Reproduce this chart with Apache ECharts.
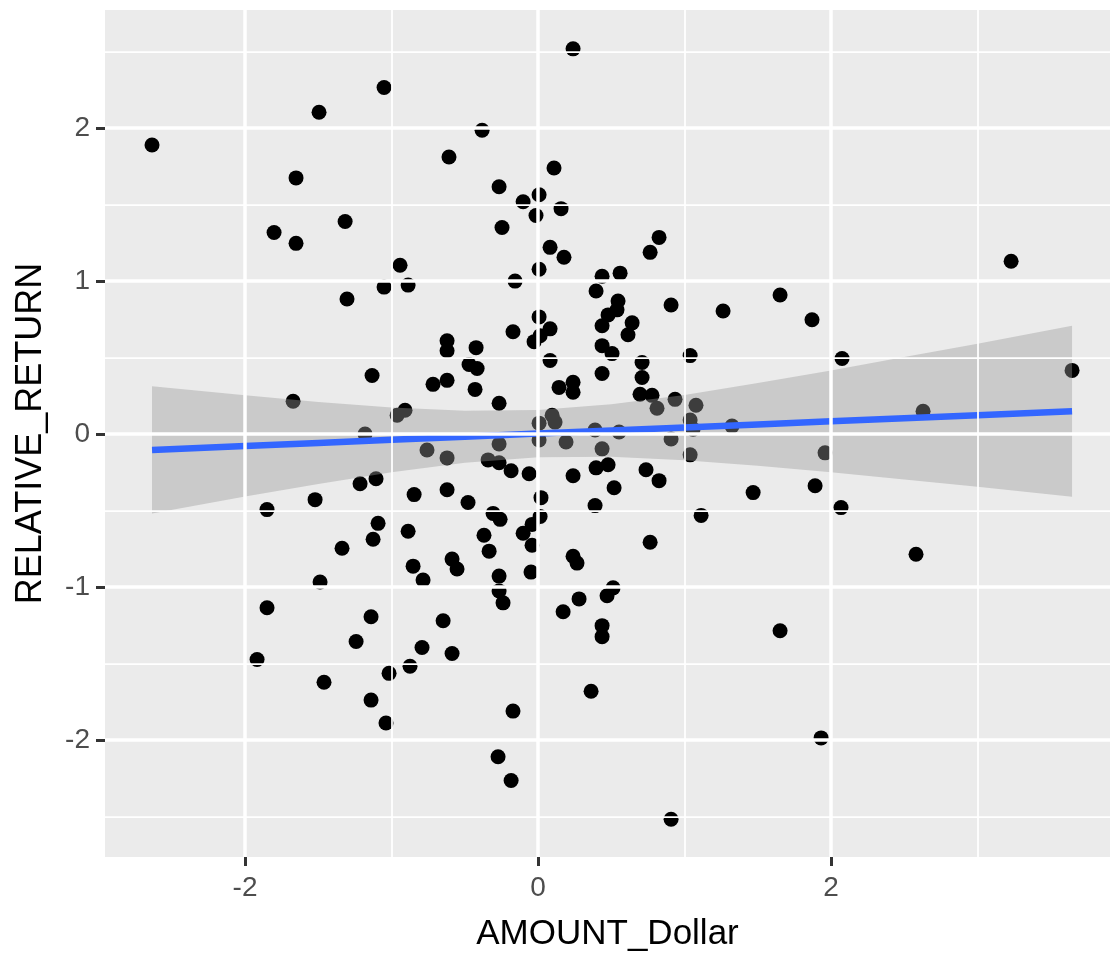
<!DOCTYPE html>
<html><head><meta charset="utf-8">
<script src="https://cdn.jsdelivr.net/npm/echarts@6/dist/echarts.min.js"></script>
<style>html,body{margin:0;padding:0;background:#fff}#c{width:1110px;height:957px}</style>
</head><body><div id="c"></div>
<script>
const amountDollar = [
-2.635,-1.495,-1.051,0.239,-0.382,-0.608,-1.652,-1.802,-1.652,-1.317,
0.109,-0.266,-0.102,0.007,-0.014,0.157,-0.246,0.082,0.177,0.826,
0.765,3.229,-0.942,-0.887,-1.051,-1.304,-0.157,0.007,0.437,0.560,
0.396,0.546,0.539,0.478,0.437,0.642,0.614,0.908,1.263,1.652,
0.007,0.082,0.014,-0.027,-0.171,-0.621,-0.621,-0.423,-0.471,-0.416,
-0.621,-0.430,-0.266,0.082,0.437,0.505,0.437,0.710,0.710,1.038,
0.143,0.239,0.239,0.696,0.778,0.812,0.935,1.078,1.038,1.058,
1.324,0.096,0.116,0.007,0.007,0.191,0.389,0.553,0.437,0.908,
1.038,-0.266,-0.621,-0.341,-0.266,-0.184,-0.061,0.239,0.396,0.478,
0.737,0.826,0.519,-0.621,-0.478,0.020,0.389,1.468,1.113,-0.307,
-0.259,0.014,-0.041,-0.102,-0.369,-0.041,-0.334,0.765,-0.587,-0.553,
0.239,0.266,-0.266,-0.048,1.870,2.075,3.645,2.628,1.959,1.891,
2.068,2.580,-1.133,-0.717,-1.672,-0.908,-0.962,-1.181,-0.758,-1.215,
-1.106,-1.522,-1.850,-0.846,-1.092,-1.126,-0.887,-1.338,-0.853,-0.785,
-1.488,-1.850,-1.140,-1.242,-0.648,-0.792,-1.918,-0.874,-1.017,-1.461,
-1.140,-1.038,-0.266,-0.239,-0.587,0.171,0.280,0.512,0.471,0.437,
0.437,0.362,-0.171,-0.273,-0.184,0.908,1.652,1.932
];
const relativeReturn = [
1.890,2.104,2.266,2.519,1.987,1.812,1.675,1.318,1.247,1.390,
1.740,1.617,1.519,1.565,1.429,1.474,1.351,1.221,1.156,1.286,
1.188,1.130,1.104,0.974,0.961,0.883,1.000,1.078,1.032,1.052,
0.935,0.870,0.812,0.779,0.708,0.727,0.649,0.844,0.805,0.909,
0.766,0.688,0.643,0.604,0.669,0.610,0.545,0.565,0.455,0.429,
0.351,0.292,0.201,0.481,0.578,0.526,0.396,0.468,0.370,0.513,
0.305,0.338,0.273,0.260,0.253,0.169,0.227,0.188,0.091,0.032,
0.052,0.123,0.078,0.071,-0.039,-0.052,0.026,0.013,-0.097,-0.032,
-0.136,-0.065,-0.156,-0.169,-0.188,-0.240,-0.260,-0.273,-0.221,-0.201,
-0.234,-0.305,-0.351,-0.364,-0.448,-0.416,-0.468,-0.383,-0.532,-0.519,
-0.558,-0.539,-0.591,-0.649,-0.662,-0.727,-0.766,-0.708,-0.818,-0.883,
-0.799,-0.844,-0.929,-0.903,0.747,0.494,0.416,0.149,-0.123,-0.338,
-0.481,-0.786,0.383,0.325,0.214,0.156,0.123,0.000,-0.104,-0.325,
-0.292,-0.429,-0.494,-0.396,-0.584,-0.688,-0.636,-0.747,-0.864,-0.955,
-0.968,-1.136,-1.195,-1.357,-1.221,-1.396,-1.474,-1.519,-1.565,-1.623,
-1.740,-1.890,-1.026,-1.104,-1.435,-1.162,-1.078,-1.006,-1.058,-1.253,
-1.325,-1.682,-1.812,-2.110,-2.266,-2.519,-1.286,-1.987
];
const fitX     = [-2.635,-2,-1.5,-1,-0.5,0,0.5,1,1.5,2,2.5,3,3.645];
const fitY     = [-0.104,-0.078,-0.058,-0.038,-0.018,0.003,0.023,0.043,0.063,0.083,0.103,0.123,0.149];
const fitUpper = [0.312,0.253,0.210,0.174,0.152,0.157,0.194,0.256,0.333,0.416,0.503,0.591,0.708];
const fitLower = [-0.519,-0.409,-0.326,-0.250,-0.188,-0.151,-0.149,-0.171,-0.207,-0.250,-0.297,-0.345,-0.410];
const xTickValues = [-2, 0, 2];
const yTickValues = [-2, -1, 0, 1, 2];
const xMinorGrid = [-1, 1, 3];
const yMinorGrid = [-2.5, -1.5, -0.5, 0.5, 1.5, 2.5];

const FONT = '"Liberation Sans", Arial, Helvetica, sans-serif';
const chart = echarts.init(document.getElementById('c'), null, {renderer: 'canvas'});
const points = amountDollar.map((x, i) => [x, relativeReturn[i]]);
const bandPoly = fitX.map((x, i) => [x, fitUpper[i]])
  .concat(fitX.map((x, i) => [x, fitLower[i]]).reverse());

const gridLines = []
  .concat(xMinorGrid.map(v => ({xAxis: v, lineStyle: {color: '#FFFFFF', width: 1.75, type: 'solid'}})))
  .concat(yMinorGrid.map(v => ({yAxis: v, lineStyle: {color: '#FFFFFF', width: 1.75, type: 'solid'}})))
  .concat(xTickValues.map(v => ({xAxis: v, lineStyle: {color: '#FFFFFF', width: 3.5, type: 'solid'}})))
  .concat(yTickValues.map(v => ({yAxis: v, lineStyle: {color: '#FFFFFF', width: 3.5, type: 'solid'}})));

const option = {
  animation: false,
  grid: {left: 105, right: 0, top: 10, bottom: 94, show: true, backgroundColor: '#EBEBEB', borderWidth: 0},
  xAxis: {
    type: 'value', min: -2.956, max: 3.904,
    axisLine: {show: false, onZero: false},
    splitLine: {show: false},
    axisTick: {show: true, length: 9, lineStyle: {color: '#333333', width: 3}, customValues: xTickValues},
    axisLabel: {customValues: xTickValues, color: '#4D4D4D', fontSize: 28, fontFamily: FONT, margin: 17},
    name: 'AMOUNT_Dollar', nameLocation: 'middle', nameGap: 60,
    nameTextStyle: {color: '#000000', fontSize: 35, fontFamily: FONT}
  },
  yAxis: {
    type: 'value', min: -2.766, max: 2.773,
    axisLine: {show: false, onZero: false},
    splitLine: {show: false},
    axisTick: {show: true, length: 9, lineStyle: {color: '#333333', width: 3}, customValues: yTickValues},
    axisLabel: {customValues: yTickValues, color: '#4D4D4D', fontSize: 28, fontFamily: FONT, margin: 15},
    name: 'RELATIVE_RETURN', nameLocation: 'middle', nameGap: 56, nameRotate: 90,
    nameTextStyle: {color: '#000000', fontSize: 36, fontFamily: FONT}
  },
  series: [
    {
      type: 'scatter', data: [], z: 1, silent: true,
      markLine: {silent: true, symbol: 'none', label: {show: false}, animation: false, data: gridLines}
    },
    {
      type: 'scatter', data: points, symbolSize: 15, z: 2,
      itemStyle: {color: '#000000', opacity: 1}
    },
    {
      type: 'custom', z: 3, silent: true, data: [[0, 0]],
      renderItem: function (params, api) {
        const pts = bandPoly.map(p => api.coord(p));
        return {type: 'polygon', shape: {points: pts}, style: {fill: 'rgba(153,153,153,0.4)'}};
      }
    },
    {
      type: 'line', z: 4, data: fitX.map((x, i) => [x, fitY[i]]), showSymbol: false, silent: true,
      lineStyle: {color: '#3366FF', width: 6.5}
    }
  ]
};
chart.setOption(option);
</script>
</body></html>
